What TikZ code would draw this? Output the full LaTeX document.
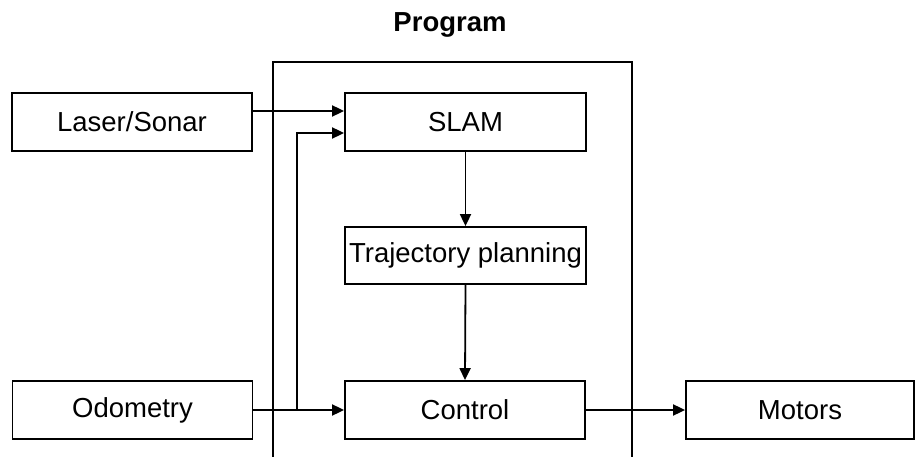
\documentclass[tikz,border=0pt]{standalone}
\usepackage{fontspec}
\setmainfont{Liberation Sans}
\usetikzlibrary{arrows.meta}
\begin{document}
\begin{tikzpicture}[x=1pt,y=-1pt,
  block/.style={draw, line width=1.8pt, rectangle, inner sep=0pt,
    minimum height=58pt, font=\fontsize{27.5}{30}\selectfont},
  wire/.style={line width=1.8pt},
  arr/.style={wire, -{Triangle[length=12pt,width=11pt]}}]
\clip (0,0) rectangle (916,457);
\useasboundingbox (0,0) rectangle (916,457);
\fill[white] (0,0) rectangle (916,457);

% title and program frame
\node[font=\bfseries\fontsize{27.5}{30}\selectfont] (title) at (450,25) {Program};
\draw[wire] (273,470) -- (273,62) -- (632,62) -- (632,470);

% blocks
\node[block, minimum width=240pt] (las)  at (132,122) {Laser/Sonar};
\node[block, minimum width=241pt] (slam) at (465.5,122) {SLAM};
\node[block, minimum width=241pt, minimum height=57pt] (traj) at (465.5,255.5) {Trajectory planning};
\node[block, minimum width=240pt] (odo)  at (132.5,410) {Odometry};
\node[block, minimum width=240pt] (ctrl) at (465,410) {Control};
\node[block, minimum width=228pt] (mot)  at (800,410) {Motors};

% connectors
\coordinate (br) at (297,410);
\draw[arr] ([yshift=11pt]las.east) -- ([yshift=11pt]slam.west);
\draw[wire] (odo.east) -- (br);
\draw[arr] (br) -- (ctrl.west);
\draw[arr] (br) |- ([yshift=-11pt]slam.west);
\draw[arr] (slam.south) -- (traj.north);
\draw[arr] (traj.south) -- (ctrl.north);
\draw[arr] (ctrl.east) -- (mot.west);
\end{tikzpicture}
\end{document}
